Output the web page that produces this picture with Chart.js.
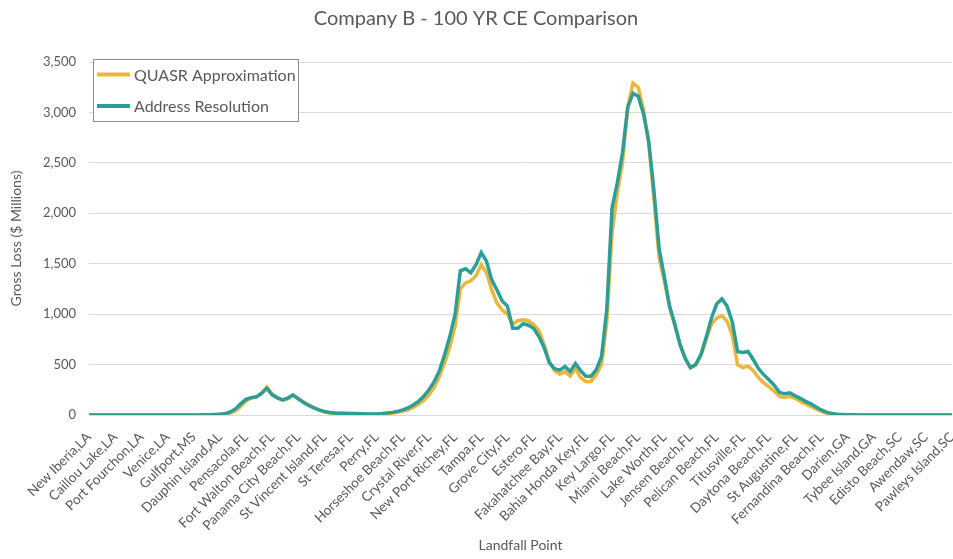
<!DOCTYPE html>
<html>
<head>
<meta charset="utf-8">
<script src="https://cdn.jsdelivr.net/npm/chart.js@4.4.1/dist/chart.umd.min.js"></script>
<style>
  html, body { margin: 0; padding: 0; background: #fff; }
  #wrap { width: 953px; height: 559px; }
</style>
</head>
<body>
<div id="wrap"><canvas id="lossChart" width="953" height="559"></canvas></div>
<script>
// landfall points shown on the axis (one label every 5 landfall steps)
let landfallPoints = [
    "New Iberia,LA", "Caillou Lake,LA", "Port Fourchon,LA", "Venice,LA", "Gulfport,MS",
    "Dauphin Island,AL", "Pensacola,FL", "Fort Walton Beach,FL", "Panama City Beach,FL",
    "St Vincent Island,FL", "St Teresa,FL", "Perry,FL", "Horseshoe Beach,FL", "Crystal River,FL",
    "New Port Richey,FL", "Tampa,FL", "Grove City,FL", "Estero,FL", "Fakahatchee Bay,FL",
    "Bahia Honda Key,FL", "Key Largo,FL", "Miami Beach,FL", "Lake Worth,FL", "Jensen Beach,FL",
    "Pelican Beach,FL", "Titusville,FL", "Daytona Beach,FL", "St Augustine,FL",
    "Fernandina Beach,FL", "Darien,GA", "Tybee Island,GA", "Edisto Beach,SC", "Awendaw,SC",
    "Pawleys Island,SC"
];
let labelEvery = 5;

// gross loss ($ millions) at each landfall step
let quasrLoss = [
    0, 0, 0, 0, 0, 0, 0, 0, 0, 0,
    0, 0, 0, 0, 0, 0, 0, 0, 0, 0,
    0, 0, 0, 2, 3, 5, 8, 18, 40, 85,
    140, 168, 180, 215, 278, 210, 172, 148, 160, 195,
    165, 130, 100, 72, 48, 32, 22, 16, 14, 13,
    12, 11, 10, 8, 8, 8, 10, 14, 19, 27,
    38, 52, 75, 105, 145, 200, 275, 380, 520, 680,
    880, 1250, 1310, 1330, 1380, 1490, 1410, 1240, 1110, 1040,
    1000, 900, 935, 945, 935, 900, 840, 700, 530, 440,
    405, 430, 385, 460, 370, 330, 335, 400, 500, 920,
    1800, 2200, 2500, 3050, 3290, 3250, 3030, 2700, 2150, 1560,
    1330, 1070, 890, 700, 560, 470, 495, 590, 750, 900,
    960, 985, 930, 790, 500, 470, 485, 440, 370, 320,
    280, 235, 185, 175, 185, 165, 135, 110, 85, 60,
    35, 18, 10, 5, 3, 2, 0, 0, 0, 0,
    0, 0, 0, 0, 0, 0, 0, 0, 0, 0,
    0, 0, 0, 0, 0, 0
];
let addressLoss = [
    0, 0, 0, 0, 0, 0, 0, 0, 0, 0,
    0, 0, 0, 0, 0, 0, 0, 0, 0, 0,
    0, 0, 2, 3, 5, 8, 12, 30, 60, 110,
    155, 172, 180, 215, 265, 200, 170, 150, 168, 200,
    160, 125, 95, 70, 50, 35, 25, 20, 18, 17,
    16, 14, 12, 10, 10, 10, 14, 20, 26, 36,
    50, 70, 100, 135, 185, 250, 330, 440, 600, 780,
    1000, 1430, 1450, 1410, 1490, 1610, 1525, 1340, 1240, 1130,
    1080, 860, 860, 905, 890, 860, 780, 670, 520, 460,
    445, 480, 430, 510, 440, 385, 385, 450, 580, 1050,
    2050, 2300, 2600, 3050, 3190, 3160, 2990, 2720, 2230, 1650,
    1370, 1080, 900, 700, 560, 470, 500, 600, 770, 960,
    1100, 1150, 1080, 920, 630, 620, 630, 550, 460, 400,
    350, 295, 225, 210, 220, 190, 165, 135, 110, 80,
    50, 28, 15, 8, 5, 3, 2, 0, 0, 0,
    0, 0, 0, 0, 0, 0, 0, 0, 0, 0,
    0, 0, 0, 0, 0, 0
];
let yTicks = [0, 500, 1000, 1500, 2000, 2500, 3000, 3500];

let textColor = "#595959";
let fontName = "Lato, 'Open Sans', sans-serif";

function toPoints(values) {
    return values.map((v, i) => ({ x: i, y: v }));
}

// legend box drawn inside the plot, top-left, like the original
const insideLegend = {
    id: "insideLegend",
    afterDraw(chart) {
        let ctx = chart.ctx;
        let area = chart.chartArea;
        let x = area.left + 4, y = area.top - 3, w = 205, h = 62;
        ctx.save();
        ctx.fillStyle = "#ffffff";
        ctx.fillRect(x, y, w, h);
        ctx.strokeStyle = "#8c8c8c";
        ctx.lineWidth = 1;
        ctx.strokeRect(x + 0.5, y + 0.5, w, h);
        chart.data.datasets.forEach((ds, k) => {
            let ly = y + 15.5 + k * 31.5;
            ctx.strokeStyle = ds.borderColor;
            ctx.lineWidth = 4;
            ctx.beginPath();
            ctx.moveTo(x + 4, ly);
            ctx.lineTo(x + 37, ly);
            ctx.stroke();
            ctx.fillStyle = textColor;
            ctx.font = "16px " + fontName;
            ctx.textBaseline = "middle";
            ctx.fillText(ds.label, x + 41, ly + 1);
        });
        ctx.restore();
    }
};

let ctx = document.getElementById("lossChart").getContext("2d");
let chart = new Chart(ctx, {
    type: "line",
    data: {
        datasets: [
            {
                label: "QUASR Approximation",
                data: toPoints(quasrLoss),
                borderColor: "#ebb63e",
                backgroundColor: "#ebb63e",
                borderWidth: 3.5,
                pointRadius: 0,
                tension: 0,
                order: 2
            },
            {
                label: "Address Resolution",
                data: toPoints(addressLoss),
                borderColor: "#2a9e97",
                backgroundColor: "#2a9e97",
                borderWidth: 3.5,
                pointRadius: 0,
                tension: 0,
                order: 1
            }
        ]
    },
    options: {
        responsive: false,
        animation: false,
        layout: { padding: { left: 0, right: 1, top: 0, bottom: 0 } },
        plugins: {
            legend: { display: false },
            tooltip: { enabled: false },
            title: {
                display: true,
                text: "Company B - 100 YR CE Comparison",
                color: textColor,
                font: { family: fontName, size: 20, weight: "normal" },
                padding: { top: 7, bottom: 31 }
            }
        },
        scales: {
            x: {
                type: "linear",
                min: 0,
                max: quasrLoss.length - 1,
                grid: { display: false },
                border: { display: false },
                ticks: {
                    stepSize: labelEvery,
                    autoSkip: false,
                    minRotation: 45,
                    maxRotation: 45,
                    padding: 6,
                    color: textColor,
                    font: { family: fontName, size: 13.5 },
                    callback: v => landfallPoints[v / labelEvery] || ""
                },
                title: {
                    display: true,
                    text: "Landfall Point",
                    color: textColor,
                    font: { family: fontName, size: 14 },
                    padding: { top: 0, bottom: 5 }
                },
                afterFit: scale => {
                    scale.height = 144;
                    scale.paddingRight = 0;
                }
            },
            y: {
                min: yTicks[0],
                max: yTicks[yTicks.length - 1],
                grid: { color: "#d9d9d9", lineWidth: 1, drawTicks: false },
                border: { display: false },
                afterBuildTicks: scale => {
                    scale.ticks = yTicks.map(v => ({ value: v }));
                },
                ticks: {
                    padding: 13,
                    color: textColor,
                    font: { family: fontName, size: 13 },
                    callback: v => v.toLocaleString("en-US")
                },
                title: {
                    display: true,
                    text: "Gross Loss ($ Millions)",
                    color: textColor,
                    font: { family: fontName, size: 14 },
                    padding: { top: 8, bottom: 0 }
                },
                afterFit: scale => { scale.width = 89; }
            }
        }
    },
    plugins: [insideLegend]
});
</script>
</body>
</html>
